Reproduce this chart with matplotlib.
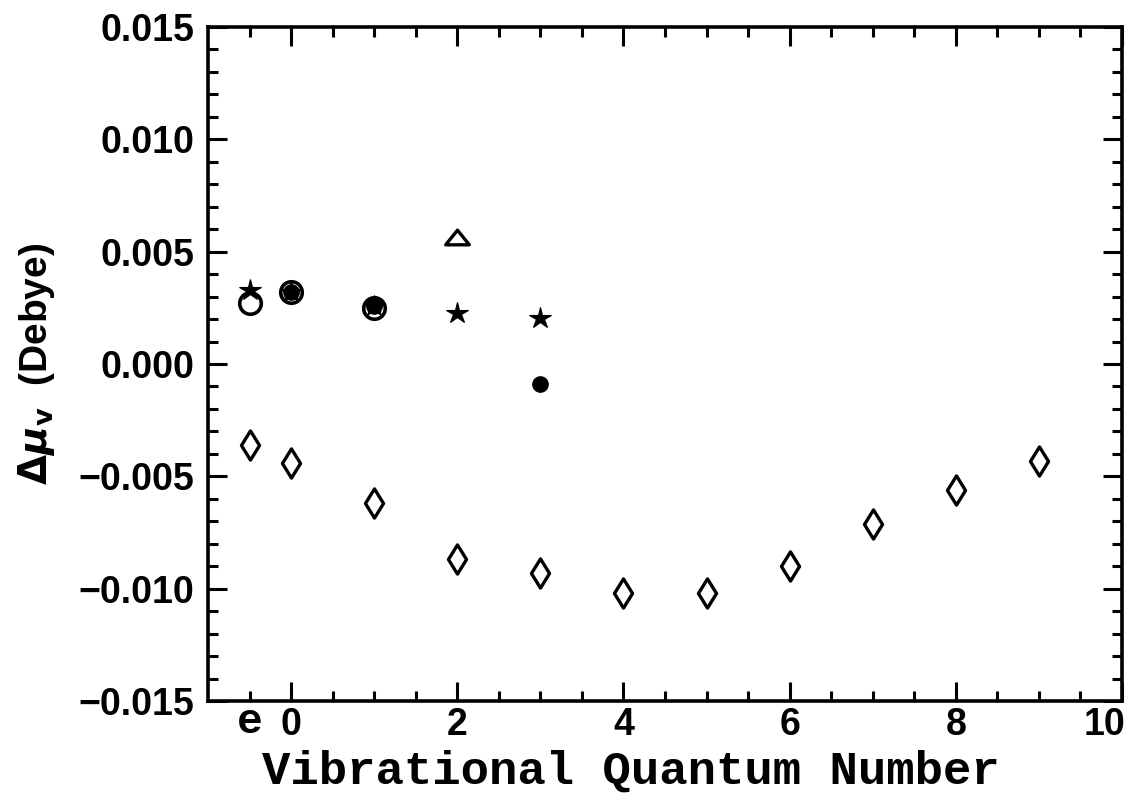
import matplotlib
matplotlib.use("Agg")
import matplotlib.pyplot as plt
from matplotlib.path import Path
import matplotlib.transforms as mtransforms
import numpy as np

# ---- data ----
v_diamond = [-0.5, 0, 1, 2, 3, 4, 5, 6, 7, 8, 9]
y_diamond = [-0.0036, -0.0044, -0.0062, -0.0087, -0.0093, -0.0102, -0.0102,
             -0.0090, -0.0071, -0.0056, -0.0043]

v_star = [-0.5, 0, 1, 2, 3]
y_star = [0.0033, 0.0032, 0.0026, 0.00227, 0.00205]

v_open_circle = [-0.5, 0, 1]
y_open_circle = [0.0027, 0.0032, 0.0025]

v_filled_circle = [0, 1, 3]
y_filled_circle = [0.0032, 0.0026, -0.00089]

v_triangle = [2]
y_triangle = [0.00565]

x_major_ticks = [0, 2, 4, 6, 8, 10]
x_major_labels = ["0", "2", "4", "6", "8", "10"]
x_minor_ticks = [-0.5, 0.5, 1, 1.5, 2.5, 3, 3.5, 4.5, 5, 5.5, 6.5, 7, 7.5, 8.5, 9, 9.5]
x_minor_labels = ["e"] + [""] * 15
y_major_ticks = [-0.015, -0.010, -0.005, 0.000, 0.005, 0.010, 0.015]

# ---- figure ----
W, H = 1132, 793
fig = plt.figure(figsize=(W / 100, H / 100), dpi=100)
L, R, T, B = 208, 1122, 27, 701
ax = fig.add_axes([L / W, 1 - B / H, (R - L) / W, (B - T) / H])

thin_diamond = Path([(0, 1), (0.62, 0), (0, -1), (-0.62, 0), (0, 1)],
                    [Path.MOVETO, Path.LINETO, Path.LINETO, Path.LINETO, Path.CLOSEPOLY])
wide_triangle = Path([(0, 0.62), (1, -0.62), (-1, -0.62), (0, 0.62)],
                     [Path.MOVETO, Path.LINETO, Path.LINETO, Path.CLOSEPOLY])

ax.plot(v_diamond, y_diamond, linestyle="none", marker=thin_diamond, ms=21,
        mfc="white", mec="black", mew=2.4)
ax.plot(v_open_circle, y_open_circle, linestyle="none", marker="o", ms=15.5,
        mfc="white", mec="black", mew=2.6)
ax.plot(v_filled_circle, y_filled_circle, linestyle="none", marker="o", ms=11,
        mfc="black", mec="black", mew=1)
ax.plot(v_star, y_star, linestyle="none", marker="*", ms=16,
        mfc="black", mec="black", mew=0.8)
ax.plot(v_triangle, y_triangle, linestyle="none", marker=wide_triangle, ms=17,
        mfc="white", mec="black", mew=2.4)

ax.set_xlim(-1, 10)
ax.set_ylim(-0.015, 0.015)

for s in ax.spines.values():
    s.set_linewidth(2.6)

ax.set_xticks(x_major_ticks)
ax.set_xticklabels(x_major_labels)
ax.set_xticks(x_minor_ticks, minor=True)
ax.set_xticklabels(x_minor_labels, minor=True)
ax.set_yticks(y_major_ticks)
ax.set_yticklabels([f"{v:.3f}".replace("-", "\u2212") for v in y_major_ticks])
ax.set_yticks(np.arange(-0.015, 0.0151, 0.001), minor=True)
ax.yaxis.set_minor_formatter(matplotlib.ticker.NullFormatter())

ax.tick_params(which="both", direction="in", top=True, right=True, width=2.2)
ax.tick_params(which="major", length=14, pad=4)
ax.tick_params(which="minor", length=7, pad=4)
ax.tick_params(axis="y", which="major", pad=10)

for lab in ax.get_xticklabels() + ax.get_yticklabels():
    lab.set_fontfamily("Liberation Sans")
    lab.set_fontweight("bold")
    lab.set_fontsize(27)
for lab in ax.get_xticklabels(minor=True):
    lab.set_fontfamily("Liberation Mono")
    lab.set_fontweight("bold")
    lab.set_fontsize(31)
    lab.set_transform(lab.get_transform() + mtransforms.ScaledTranslation(0, 4.5 / 100, fig.dpi_scale_trans))
last = ax.get_xticklabels()[-1]
last.set_horizontalalignment("right")
last.set_transform(last.get_transform() + mtransforms.ScaledTranslation(3 / 100, 0, fig.dpi_scale_trans))

ax.set_xlabel("Vibrational Quantum Number", fontfamily="Liberation Mono",
              fontweight="bold", fontsize=34)
ax.xaxis.set_label_coords(0.463, -0.072)
ax.set_ylabel(r"$\mathbf{\Delta}\boldsymbol{\mu}_\mathbf{v}$  (Debye)", fontfamily="Liberation Sans",
              fontweight="bold", fontsize=28)
ax.yaxis.set_label_coords(-0.165, 0.5)

fig.savefig("out.png", dpi=100)
